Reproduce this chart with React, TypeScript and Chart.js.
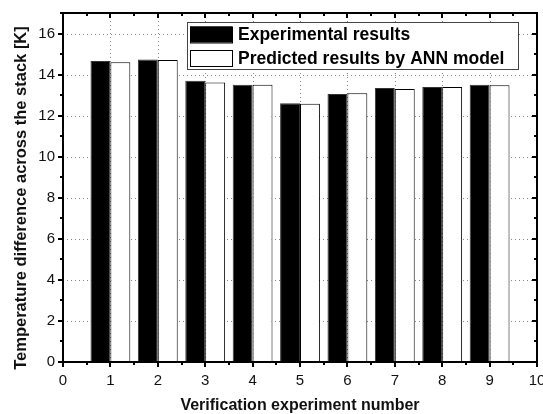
import React, { useEffect, useRef } from "react";
import { Chart, registerables } from "chart.js";

Chart.register(...registerables);

const experiments = [1, 2, 3, 4, 5, 6, 7, 8, 9];
const experimentalResults = [14.66, 14.74, 13.7, 13.51, 12.6, 13.06, 13.35, 13.4, 13.5];
const annPredicted = [14.6, 14.71, 13.62, 13.51, 12.58, 13.09, 13.3, 13.4, 13.48];
const seriesLabels = ["Experimental results", "Predicted results by ANN model"];
const xTitle = "Verification experiment number";
const yTitle = "Temperature difference across the stack [K]";

const FONT = "Arial, 'Liberation Sans', sans-serif";

const gridPlugin = {
  id: "dottedGrid",
  beforeDatasetsDraw(chart: any) {
    const { ctx, chartArea: a, scales } = chart;
    ctx.save();
    ctx.strokeStyle = "#888";
    ctx.lineWidth = 1;
    ctx.setLineDash([1, 3]);
    for (let v = 1; v <= 9; v++) {
      const px = Math.round(scales.x.getPixelForValue(v)) + 0.5;
      ctx.beginPath();
      ctx.moveTo(px, a.top);
      ctx.lineTo(px, a.bottom);
      ctx.stroke();
    }
    for (let v = 2; v <= 16; v += 2) {
      const py = Math.round(scales.y.getPixelForValue(v)) + 0.5;
      ctx.beginPath();
      ctx.moveTo(a.left, py);
      ctx.lineTo(a.right, py);
      ctx.stroke();
    }
    ctx.restore();
  },
};

const framePlugin = {
  id: "frameTicks",
  afterDraw(chart: any) {
    const { ctx, chartArea: a, scales } = chart;
    const x = scales.x;
    const y = scales.y;
    ctx.save();
    ctx.strokeStyle = "#000";
    ctx.lineWidth = 2;
    ctx.strokeRect(a.left, a.top, a.right - a.left, a.bottom - a.top);
    for (let v = 0; v <= 10; v += 0.5) {
      const px = Math.round(x.getPixelForValue(v));
      const major = Math.abs(v - Math.round(v)) < 1e-6;
      const len = major ? 5 : 3;
      ctx.beginPath();
      ctx.moveTo(px, a.bottom);
      ctx.lineTo(px, a.bottom + len);
      ctx.moveTo(px, a.top);
      ctx.lineTo(px, a.top + len);
      ctx.stroke();
    }
    for (let v = 0; v <= 17; v += 1) {
      const py = Math.round(y.getPixelForValue(v));
      const major = v % 2 === 0;
      const len = major ? 5 : 3;
      ctx.beginPath();
      ctx.moveTo(a.left, py);
      ctx.lineTo(a.left - len, py);
      ctx.moveTo(a.right, py);
      ctx.lineTo(a.right - len, py);
      ctx.stroke();
    }
    // y title
    ctx.save();
    ctx.translate(21, 198);
    ctx.rotate(-Math.PI / 2);
    ctx.font = `bold 16.5px ${FONT}`;
    ctx.fillStyle = "#111";
    ctx.textAlign = "center";
    ctx.textBaseline = "middle";
    ctx.fillText(yTitle, 0, 0);
    ctx.restore();
    // legend
    const lx = 187, ly = 22, lw = 331, lh = 47;
    ctx.fillStyle = "#fff";
    ctx.fillRect(lx, ly, lw, lh);
    ctx.lineWidth = 1;
    ctx.strokeStyle = "#444";
    ctx.strokeRect(lx + 0.5, ly + 0.5, lw, lh);
    const rows = [
      { fill: "#000", label: chart.data.datasets[0].label, cy: 34.5 },
      { fill: "#fff", label: chart.data.datasets[1].label, cy: 58 },
    ];
    ctx.font = `bold 17.5px ${FONT}`;
    ctx.textBaseline = "middle";
    for (const r of rows) {
      ctx.fillStyle = r.fill;
      ctx.fillRect(190, r.cy - 8, 42, 16);
      ctx.strokeStyle = "#000";
      ctx.strokeRect(190.5, r.cy - 8 + 0.5, 42, 16);
      ctx.fillStyle = "#000";
      ctx.fillText(r.label, 238, r.cy + 1);
    }
    ctx.restore();
  },
};

export default function App() {
  const ref = useRef<HTMLCanvasElement>(null);
  useEffect(() => {
    if (!ref.current) return;
    const chart = new Chart(ref.current, {
      type: "bar",
      data: {
        datasets: [
          {
            label: seriesLabels[0],
            data: experiments.map((e, i) => ({ x: e, y: experimentalResults[i] })),
            backgroundColor: "#000",
            borderColor: "#333",
            borderWidth: 1,
          },
          {
            label: seriesLabels[1],
            data: experiments.map((e, i) => ({ x: e, y: annPredicted[i] })),
            backgroundColor: "#fff",
            borderColor: "#000",
            borderWidth: 1,
          },
        ],
      },
      plugins: [gridPlugin, framePlugin],
      options: {
        responsive: false,
        animation: false,
        events: [],
        layout: { padding: { left: 0, right: 6, top: 13, bottom: 0 } },
        plugins: { legend: { display: false }, tooltip: { enabled: false } },
        datasets: { bar: { categoryPercentage: 0.84, barPercentage: 1 } },
        scales: {
          x: {
            type: "linear",
            offset: false,
            min: 0,
            max: 10,
            afterFit: (s: any) => {
              s.height = 52;
              s.paddingLeft = 0;
              s.paddingRight = 0;
            },
            ticks: {
              stepSize: 1,
              color: "#111",
              font: { family: FONT, size: 15 },
              padding: 10,
            },
            grid: { display: false, drawTicks: false, tickLength: 0 },
            border: { display: false },
            title: {
              display: true,
              text: xTitle,
              color: "#111",
              font: { family: FONT, size: 16, weight: "bold", lineHeight: 1 },
              padding: { top: 0, bottom: 0 },
            },
          },
          y: {
            type: "linear",
            min: 0,
            max: 17,
            afterFit: (s: any) => {
              s.width = 63;
              s.paddingTop = 0;
              s.paddingBottom = 0;
            },
            ticks: {
              stepSize: 2,
              color: "#111",
              font: { family: FONT, size: 15 },
              padding: 8,
              callback: (v: any) => (v % 2 === 0 ? String(v) : ""),
            },
            grid: { display: false, drawTicks: false, tickLength: 0 },
            border: { display: false },
            title: { display: false },
          },
        },
      } as any,
    });
    return () => chart.destroy();
  }, []);
  return (
    <div style={{ position: "fixed", left: 0, top: 0, width: 543, height: 414, background: "#fff" }}>
      <canvas ref={ref} width={543} height={414} />
    </div>
  );
}
